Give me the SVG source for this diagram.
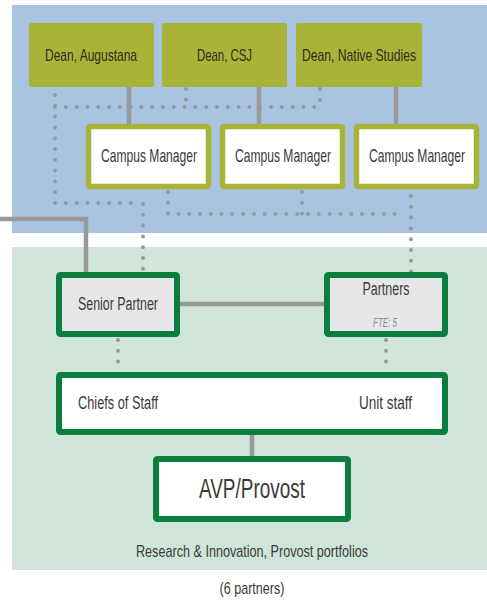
<svg xmlns="http://www.w3.org/2000/svg" width="487" height="601" viewBox="0 0 487 601">
<style>
text{font-family:"Liberation Sans",Arial,sans-serif;fill:#3a3a3a;text-anchor:middle}
.dean rect{fill:#a8b337}
.dean text{fill:#2e2e22;font-size:17px}
.cm rect{fill:#fff;stroke:#a8b337;stroke-width:5.5}
.cm text{font-size:18px}
.gn rect{stroke:#0b7d3e;stroke-width:6}
.grey{fill:#e6e7e8}
.white{fill:#fff}
.solid{fill:none;stroke:#999;stroke-width:4.5}
.dot{fill:none;stroke:#999;stroke-width:4;stroke-linecap:round;stroke-dasharray:0 10.8}
</style>
<rect x="12" y="5" width="475" height="228" fill="#a9c4e1"/>
<rect x="12" y="247" width="475" height="323" fill="#cfe5d9"/>
<g id="connectors">
<path class="solid" d="M129,87V124M259,87V124M396,87V124"/>
<path class="solid" d="M0,219H86V272" stroke-width="5"/>
<path class="solid" d="M180,304H324"/>
<path class="solid" d="M252,435V456"/>
<path class="dot" d="M55,95V203H133"/>
<path class="dot" d="M55,107H318"/>
<path class="dot" d="M186,89V107"/>
<path class="dot" d="M320,89V107"/>
<path class="dot" d="M143,204V272"/>
<path class="dot" d="M168,192V214H400"/>
<path class="dot" d="M302,192V214"/>
<path class="dot" d="M411,196V272"/>
<path class="dot" d="M118,340V372"/>
<path class="dot" d="M386,340V372"/>
</g>
<g id="dean-augustana" class="dean"><rect x="29" y="23" width="125" height="64" rx="2"/><text x="91" y="61" textLength="92" lengthAdjust="spacingAndGlyphs">Dean, Augustana</text></g>
<g id="dean-csj" class="dean"><rect x="162" y="23" width="125" height="64" rx="2"/><text x="224.5" y="61" textLength="55" lengthAdjust="spacingAndGlyphs">Dean, CSJ</text></g>
<g id="dean-native" class="dean"><rect x="296" y="23" width="126" height="64" rx="2"/><text x="359" y="61" textLength="114" lengthAdjust="spacingAndGlyphs">Dean, Native Studies</text></g>
<g id="cm1" class="cm"><rect x="88.5" y="126.5" width="120" height="60" rx="1.5"/><text transform="translate(149,162) scale(0.671,1)">Campus Manager</text></g>
<g id="cm2" class="cm"><rect x="222.5" y="126.5" width="120" height="60" rx="1.5"/><text transform="translate(283,162) scale(0.671,1)">Campus Manager</text></g>
<g id="cm3" class="cm"><rect x="356.5" y="126.5" width="120" height="60" rx="1.5"/><text transform="translate(417,162) scale(0.671,1)">Campus Manager</text></g>
<g id="senior-partner" class="gn"><rect class="grey" x="59" y="275" width="118" height="59" rx="1.5"/><text x="118" y="310" font-size="18" textLength="80" lengthAdjust="spacingAndGlyphs">Senior Partner</text></g>
<g id="partners" class="gn"><rect class="grey" x="327" y="275" width="118" height="59" rx="1.5"/><text x="386" y="295" font-size="18" textLength="47" lengthAdjust="spacingAndGlyphs">Partners</text><text x="385" y="327" font-size="12" font-style="italic" style="fill:#8a8a8a" textLength="24" lengthAdjust="spacingAndGlyphs">FTE: 5</text></g>
<g id="staff" class="gn"><rect class="white" x="59" y="375" width="386" height="57" rx="1.5"/><text x="78" y="409" font-size="18" style="text-anchor:start" textLength="80" lengthAdjust="spacingAndGlyphs">Chiefs of Staff</text><text x="412" y="409" font-size="18" style="text-anchor:end" textLength="53" lengthAdjust="spacingAndGlyphs">Unit staff</text></g>
<g id="avp" class="gn"><rect class="white" x="156" y="459" width="192" height="60" rx="1.5"/><text x="252" y="498" font-size="27" textLength="106" lengthAdjust="spacingAndGlyphs">AVP/Provost</text></g>
<text x="252" y="557" font-size="17" textLength="232" lengthAdjust="spacingAndGlyphs">Research &amp; Innovation, Provost portfolios</text>
<text x="252" y="594" font-size="17" textLength="65" lengthAdjust="spacingAndGlyphs">(6 partners)</text>
</svg>
